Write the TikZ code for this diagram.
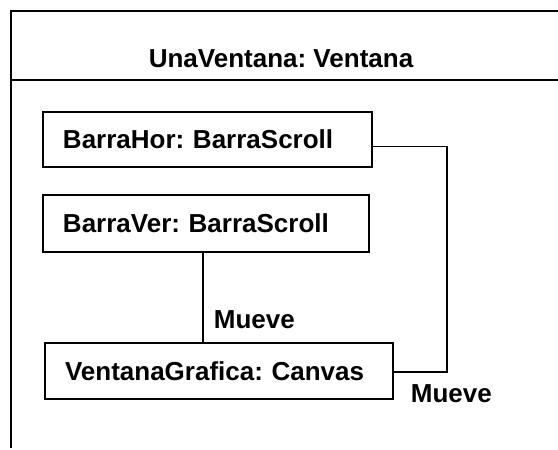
\documentclass[tikz,border=0pt]{standalone}
\usepackage{fontspec}
\setmainfont{Liberation Sans}
\frenchspacing
\begin{document}
\begin{tikzpicture}[x=1pt,y=-1pt,
  line width=1.8pt,
  lbl/.style={font=\fontsize{26}{30}\selectfont\bfseries, inner sep=0pt},
  obj/.style={draw, anchor=north west, font=\fontsize{26}{30}\selectfont\bfseries,
    align=left, inner xsep=20pt, inner ysep=0pt, outer sep=0pt}]
\useasboundingbox (0,0) rectangle (558,450);
% frame
\coordinate (tr) at (558,11);
\coordinate (tl) at (11,11);
\coordinate (bl) at (11,448);
\coordinate (sl) at (11,80);
\coordinate (sr) at (558,80);
\draw (tr) -- (tl) -- (bl);
\draw (sl) -- (sr);
\node[lbl, anchor=base] (title) at (281,67) {UnaVentana: Ventana};
% objects
\node[obj, text width=289pt, minimum height=55pt] (box1) at (43,112) {BarraHor: BarraScroll};
\node[obj, text width=286pt, minimum height=57pt] (box2) at (43,195) {BarraVer: BarraScroll};
\node[obj, text width=308pt, minimum height=56pt] (box3) at (45,343) {VentanaGrafica: Canvas};
% connectors
\draw ([xshift=-3pt]box2.south) -- ([xshift=-3pt]box2.south |- box3.north);
\draw ([yshift=-7pt]box1.east) -- ++(75,0) |- ([yshift=-1pt]box3.east);
\node[lbl, anchor=west] (m1) at (213,320) {Mueve};
\node[lbl, anchor=west] (m2) at (410,394) {Mueve};
\end{tikzpicture}
\end{document}
